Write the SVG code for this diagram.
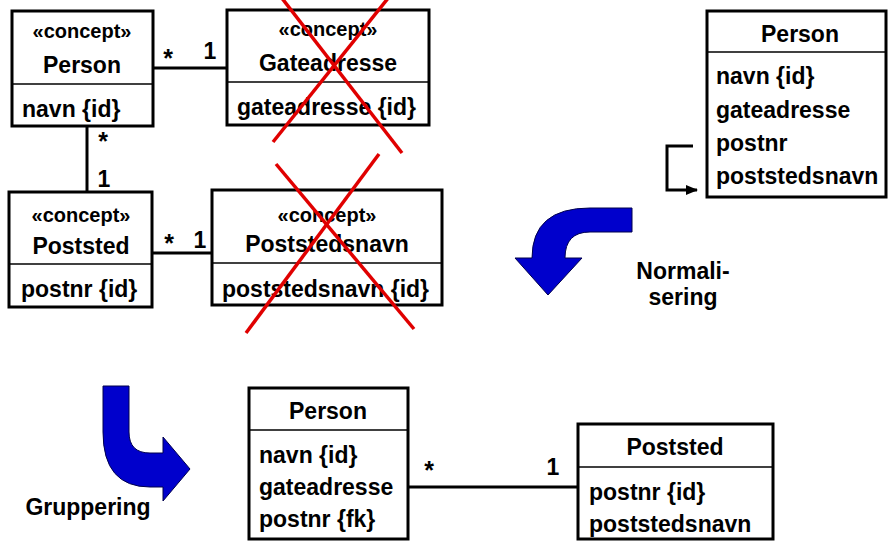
<svg xmlns="http://www.w3.org/2000/svg" width="888" height="541" viewBox="0 0 888 541">
<style>
text{font-family:"Liberation Sans",Arial,sans-serif;font-weight:bold;fill:#000}
.t{font-size:23px}
.s{font-size:20px}
.m{font-size:25px}
.c{text-anchor:middle}
.box{fill:#fff;stroke:#000;stroke-width:3}
.div{stroke:#000;stroke-width:1.5}
.ln{stroke:#000;stroke-width:3;fill:none}
.x{stroke:#e00000;stroke-width:3.5;fill:none}
.blue{fill:#0000cc;stroke:#00004d;stroke-width:1}
</style>
<defs>
<marker id="ah" viewBox="0 0 12 10" refX="11" refY="5" markerWidth="12" markerHeight="10" orient="auto" markerUnits="userSpaceOnUse">
<path d="M0,0 L12,5 L0,10 Z" fill="#000"/>
</marker>
</defs>

<g id="connectors">
<line class="ln" x1="153" y1="68" x2="227" y2="68"/>
<line class="ln" x1="87" y1="126" x2="87" y2="192"/>
<line class="ln" x1="152" y1="253" x2="212" y2="253"/>
<line class="ln" x1="409" y1="487" x2="578" y2="487"/>
<polyline class="ln" points="693,146 667,146 667,190 697,190" marker-end="url(#ah)"/>
<text class="m c" x="168" y="67">*</text>
<text class="t c" x="210" y="59">1</text>
<text class="m c" x="103" y="150">*</text>
<text class="t c" x="104" y="187">1</text>
<text class="m c" x="169" y="252">*</text>
<text class="t c" x="200" y="248">1</text>
<text class="m c" x="429" y="479">*</text>
<text class="t c" x="553" y="475">1</text>
</g>

<g id="concept-person">
<rect class="box" x="12" y="11" width="141" height="115"/>
<line class="div" x1="12" y1="84" x2="153" y2="84"/>
<text class="s c" x="82" y="38">«concept»</text>
<text class="t c" x="82" y="73">Person</text>
<text class="t" x="22" y="117">navn {id}</text>
</g>

<g id="concept-gateadresse">
<rect class="box" x="227" y="10" width="202" height="115"/>
<line class="div" x1="227" y1="82" x2="429" y2="82"/>
<text class="s c" x="328" y="36">«concept»</text>
<text class="t c" x="328" y="71">Gateadresse</text>
<text class="t" x="237" y="115">gateadresse {id}</text>
</g>

<g id="concept-poststed">
<rect class="box" x="9" y="192" width="143" height="115"/>
<line class="div" x1="9" y1="264" x2="152" y2="264"/>
<text class="s c" x="81" y="222">«concept»</text>
<text class="t c" x="81" y="254">Poststed</text>
<text class="t" x="21" y="297">postnr {id}</text>
</g>

<g id="concept-poststedsnavn">
<rect class="box" x="212" y="190" width="230" height="115"/>
<line class="div" x1="212" y1="263" x2="442" y2="263"/>
<text class="s c" x="327" y="222">«concept»</text>
<text class="t c" x="327" y="252">Poststedsnavn</text>
<text class="t" x="222" y="297">poststedsnavn {id}</text>
</g>

<g id="cross-gateadresse">
<line class="x" x1="281" y1="-3" x2="402" y2="153"/>
<line class="x" x1="389" y1="-3" x2="273" y2="142"/>
</g>

<g id="cross-poststedsnavn">
<line class="x" x1="276" y1="164" x2="414" y2="329"/>
<line class="x" x1="379" y1="154" x2="246" y2="333"/>
</g>

<g id="person-flat">
<rect class="box" x="707" y="11" width="179" height="186"/>
<line class="div" x1="707" y1="52" x2="886" y2="52"/>
<text class="t c" x="800" y="42">Person</text>
<text class="t" x="716" y="84">navn {id}</text>
<text class="t" x="716" y="118">gateadresse</text>
<text class="t" x="716" y="151">postnr</text>
<text class="t" x="716" y="184">poststedsnavn</text>
</g>

<g id="normalisering">
<path class="blue" d="M632,208 L590,208 Q532,208 532,258 L515,258 L548,295 L582,258 L565,258 Q565,232 590,232 L632,232 Z"/>
<text class="t c" x="683" y="279">Normali-</text>
<text class="t c" x="683" y="305">sering</text>
</g>

<g id="gruppering">
<path class="blue" d="M103,386 L129,386 L129,432 Q129,453 150,453 L163,453 L163,437 L190,469 L163,501 L163,487 L150,487 Q103,487 103,432 Z"/>
<text class="t c" x="88" y="515">Gruppering</text>
</g>

<g id="person-final">
<rect class="box" x="249" y="388" width="159" height="151"/>
<line class="div" x1="249" y1="430" x2="408" y2="430"/>
<text class="t c" x="328" y="419">Person</text>
<text class="t" x="259" y="463">navn {id}</text>
<text class="t" x="259" y="495">gateadresse</text>
<text class="t" x="259" y="527">postnr {fk}</text>
</g>

<g id="poststed-final">
<rect class="box" x="578" y="424" width="195" height="115"/>
<line class="div" x1="578" y1="467" x2="773" y2="467"/>
<text class="t c" x="675" y="455">Poststed</text>
<text class="t" x="589" y="500">postnr {id}</text>
<text class="t" x="589" y="532">poststedsnavn</text>
</g>
</svg>
